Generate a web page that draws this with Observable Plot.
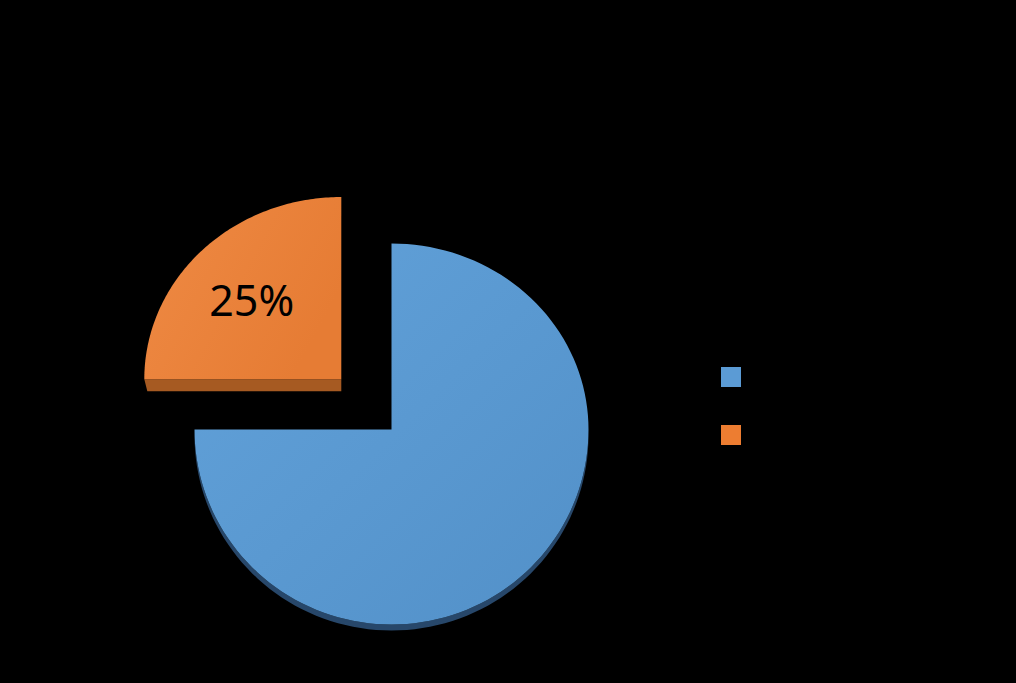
<!DOCTYPE html>
<html>
<head>
<meta charset="utf-8">
<script src="https://cdn.jsdelivr.net/npm/d3@7"></script>
<script src="https://cdn.jsdelivr.net/npm/@observablehq/plot@0.6"></script>
<style>
  html, body { margin: 0; padding: 0; background: #000; }
  #chart svg { display: block; }
</style>
</head>
<body>
<div id="chart"></div>
<script>
// ---- data ----
const categories = ["Series 1", "Series 2"];
const values = [75, 25];
const labels = ["", "25%"];
const topColors = ["url(#gBlue)", "url(#gOrange)"];
const sideColors = ["#27476a", "#a65a22"];
const legendColors = ["#5b9bd5", "#ed7d31"];

// ---- layout ----
const W = 1016, H = 683;
const cx = 391, cy = 429;
const rx = 197, ryTop = 186, ryBot = 195;
const explode = [0, 71];
const ryScale = [1, 0.98];
const depth = [6, 12];

const pie = d3.pie().sort(null).value(d => d.value).startAngle(0).endAngle(2 * Math.PI);
const slices = pie(categories.map((c, i) => ({ name: c, value: values[i], i })));

function pt(a, r = 1, sy = 1) {
  const s = Math.sin(a), c = Math.cos(a);
  return [s * rx * r, -c * (c > 0 ? ryTop : ryBot) * r * sy];
}

const topPolys = [], sidePolys = [], labelPts = [];
slices.forEach((sl, k) => {
  const mid = (sl.startAngle + sl.endAngle) / 2;
  const ox = cx + Math.sin(mid) * explode[k];
  const oy = cy - Math.cos(mid) * explode[k];
  const n = 120;
  const arc = d3.range(n + 1).map(j => sl.startAngle + (sl.endAngle - sl.startAngle) * j / n);
  const poly = [[ox, oy], ...arc.map(a => { const p = pt(a, 1, ryScale[k]); return [ox + p[0], oy + p[1]]; }), [ox, oy]];
  poly.forEach((p, j) => topPolys.push({ x: p[0], y: p[1], k, j }));
  // side faces
  let side = [];
  if (k === 0) {
    const sArc = arc.filter(a => a >= Math.PI / 2 && a <= 1.5 * Math.PI);
    const front = sArc.map(a => { const p = pt(a); return [ox + p[0], oy + p[1]]; });
    side = [...front, ...front.slice().reverse().map(p => [p[0], p[1] + depth[k]])];
  } else {
    const p = pt(sl.startAngle);
    const e = [ox + p[0], oy + p[1]];
    side = [[ox, oy], e, [e[0] + 3, e[1] + depth[k]], [ox, oy + depth[k]]];
  }
  side.forEach((p, j) => sidePolys.push({ x: p[0], y: p[1], k, j }));
  const lp = pt(mid, 0.6, ryScale[k]);
  labelPts.push({ x: ox + lp[0], y: oy + lp[1], text: labels[k] });
});

const legend = categories.map((c, i) => ({ name: c, color: legendColors[i], x1: 721, x2: 741, y1: 367 + i * 58, y2: 387 + i * 58 }));

const chart = Plot.plot({
  width: W, height: H,
  margin: 0,
  style: { background: "#000" },
  x: { domain: [0, W], range: [0, W], axis: null },
  y: { domain: [0, H], range: [0, H], axis: null },
  marks: [
    Plot.line(sidePolys, { x: "x", y: "y", z: "k", fill: d => sideColors[d.k], stroke: "none", curve: "linear-closed" }),
    Plot.line(topPolys, { x: "x", y: "y", z: "k", fill: d => topColors[d.k], stroke: "none", curve: "linear-closed" }),
    Plot.text(labelPts, { x: "x", y: "y", text: "text", dx: -6, fill: "#000", fontSize: 43, fontFamily: "Noto Sans, sans-serif" }),
    Plot.rect(legend, { x1: "x1", x2: "x2", y1: "y1", y2: "y2", fill: "color" }),
    Plot.text(legend, { x: "x2", y: d => (d.y1 + d.y2) / 2, dx: 8, text: "name", textAnchor: "start", fill: "#000", fontSize: 16 })
  ]
});

const defs = `
<defs>
  <linearGradient id="gBlue" x1="0" y1="0" x2="1" y2="1">
    <stop offset="0" stop-color="#62a2da"/>
    <stop offset="1" stop-color="#5290c8"/>
  </linearGradient>
  <linearGradient id="gOrange" x1="0" y1="0" x2="1" y2="0.5">
    <stop offset="0" stop-color="#ef8a44"/>
    <stop offset="1" stop-color="#e67c34"/>
  </linearGradient>
</defs>`;
chart.insertAdjacentHTML("afterbegin", defs);
document.getElementById("chart").append(chart);
</script>
</body>
</html>
